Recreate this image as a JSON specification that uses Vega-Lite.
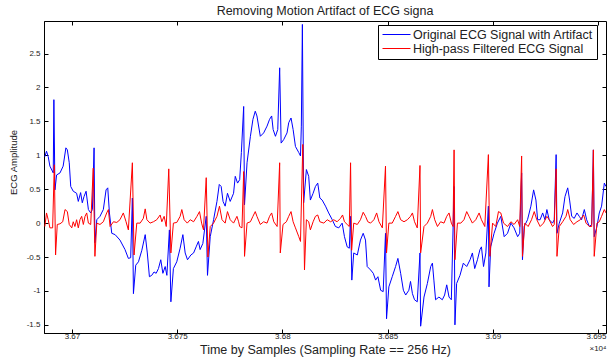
{
  "$schema": "https://vega.github.io/schema/vega-lite/v6.json",
  "width": 562,
  "height": 312,
  "autosize": {"type": "none"},
  "padding": {"left": 44, "top": 21, "right": 1, "bottom": 27},
  "background": "white",
  "config": {
    "view": {"stroke": "#000", "strokeWidth": 1},
    "font": "Liberation Sans",
    "axis": {"grid": false, "domainColor": "#000", "tickColor": "#000", "labelColor": "#222", "titleColor": "#222", "labelFont": "Liberation Sans", "titleFont": "Liberation Sans", "titleFontWeight": "normal"}
  },
  "title": {"text": "Removing Motion Artifact of ECG signa", "fontSize": 12.5, "fontWeight": "normal", "font": "Liberation Sans", "color": "#222", "offset": 3, "anchor": "middle"},
  "datasets": {
    "orig": [
      {"t":36687.1,"v":0.98},{"t":36687.9,"v":1.06},{"t":36688.7,"v":0.98},{"t":36689.5,"v":0.84},{"t":36691.1,"v":0.74},{"t":36691.4,"v":1.82},{"t":36691.9,"v":0.49},{"t":36692.7,"v":0.71},{"t":36694.3,"v":0.74},{"t":36695.8,"v":0.84},{"t":36697.1,"v":1.11},{"t":36697.8,"v":1.08},{"t":36698.7,"v":0.89},{"t":36699.4,"v":0.54},{"t":36700.6,"v":0.47},{"t":36702.2,"v":0.44},{"t":36703.0,"v":0.32},{"t":36704.1,"v":0.45},{"t":36704.9,"v":0.30},{"t":36705.7,"v":0.39},{"t":36706.7,"v":0.47},{"t":36707.8,"v":0.20},{"t":36708.9,"v":0.15},{"t":36709.7,"v":0.20},{"t":36710.5,"v":1.11},{"t":36710.9,"v":-0.29},{"t":36711.8,"v":0.05},{"t":36713.3,"v":0.10},{"t":36714.9,"v":0.20},{"t":36716.2,"v":0.49},{"t":36717.0,"v":0.52},{"t":36717.8,"v":0.15},{"t":36718.9,"v":-0.15},{"t":36720.5,"v":-0.17},{"t":36722.8,"v":-0.25},{"t":36725.2,"v":-0.39},{"t":36726.8,"v":-0.52},{"t":36727.9,"v":-0.51},{"t":36728.7,"v":0.37},{"t":36729.2,"v":-1.04},{"t":36730.3,"v":-0.62},{"t":36731.6,"v":-0.57},{"t":36733.2,"v":-0.40},{"t":36734.8,"v":-0.17},{"t":36735.8,"v":-0.44},{"t":36736.8,"v":-0.79},{"t":36737.9,"v":-0.77},{"t":36739.0,"v":-0.72},{"t":36740.0,"v":-0.74},{"t":36741.1,"v":-0.67},{"t":36742.2,"v":-0.54},{"t":36743.2,"v":-0.74},{"t":36744.3,"v":-0.64},{"t":36745.1,"v":-0.77},{"t":36746.3,"v":-0.10},{"t":36747.0,"v":-1.16},{"t":36748.2,"v":-0.67},{"t":36749.8,"v":-0.57},{"t":36751.4,"v":-0.37},{"t":36752.7,"v":-0.17},{"t":36753.8,"v":-0.44},{"t":36754.9,"v":-0.54},{"t":36756.5,"v":-0.47},{"t":36757.8,"v":-0.44},{"t":36759.0,"v":-0.35},{"t":36760.1,"v":-0.27},{"t":36760.9,"v":-0.39},{"t":36762.2,"v":-0.30},{"t":36763.8,"v":0.10},{"t":36764.4,"v":-0.77},{"t":36765.7,"v":-0.20},{"t":36767.3,"v":0.05},{"t":36768.9,"v":0.32},{"t":36770.0,"v":0.57},{"t":36770.9,"v":0.54},{"t":36771.8,"v":0.32},{"t":36772.8,"v":0.25},{"t":36773.9,"v":0.44},{"t":36775.2,"v":0.32},{"t":36776.8,"v":0.44},{"t":36777.6,"v":0.69},{"t":36778.7,"v":0.59},{"t":36779.7,"v":0.64},{"t":36780.5,"v":1.04},{"t":36781.6,"v":1.72},{"t":36782.0,"v":0.27},{"t":36783.2,"v":0.89},{"t":36784.8,"v":1.28},{"t":36786.0,"v":1.53},{"t":36787.1,"v":1.65},{"t":36787.9,"v":1.58},{"t":36789.5,"v":1.28},{"t":36791.1,"v":1.33},{"t":36792.7,"v":1.43},{"t":36793.9,"v":1.53},{"t":36794.9,"v":1.58},{"t":36795.6,"v":1.38},{"t":36796.7,"v":1.28},{"t":36797.8,"v":1.38},{"t":36798.7,"v":2.29},{"t":36799.4,"v":1.18},{"t":36800.6,"v":1.23},{"t":36802.2,"v":1.33},{"t":36803.0,"v":1.48},{"t":36804.1,"v":1.55},{"t":36805.1,"v":1.38},{"t":36806.2,"v":1.13},{"t":36807.8,"v":1.04},{"t":36808.6,"v":0.99},{"t":36809.0,"v":1.43},{"t":36809.5,"v":2.93},{"t":36810.1,"v":0.30},{"t":36811.4,"v":0.79},{"t":36812.5,"v":0.69},{"t":36813.3,"v":0.34},{"t":36814.6,"v":0.44},{"t":36815.7,"v":0.54},{"t":36816.8,"v":0.59},{"t":36817.8,"v":0.37},{"t":36818.9,"v":0.34},{"t":36820.5,"v":0.25},{"t":36822.0,"v":0.15},{"t":36823.7,"v":0.05},{"t":36825.2,"v":-0.05},{"t":36826.8,"v":-0.07},{"t":36828.4,"v":0.0},{"t":36829.5,"v":-0.20},{"t":36830.8,"v":-0.35},{"t":36831.8,"v":-0.37},{"t":36832.4,"v":0.10},{"t":36833.0,"v":-0.84},{"t":36833.9,"v":-0.44},{"t":36835.6,"v":-0.47},{"t":36837.1,"v":-0.25},{"t":36838.4,"v":-0.15},{"t":36839.5,"v":-0.25},{"t":36840.3,"v":-0.64},{"t":36841.9,"v":-0.69},{"t":36843.2,"v":-0.74},{"t":36844.3,"v":-0.84},{"t":36845.4,"v":-0.79},{"t":36846.7,"v":-0.99},{"t":36847.9,"v":-1.01},{"t":36849.0,"v":-0.15},{"t":36849.5,"v":-1.41},{"t":36850.6,"v":-0.94},{"t":36852.2,"v":-0.79},{"t":36853.8,"v":-0.64},{"t":36854.9,"v":-0.52},{"t":36856.2,"v":-0.74},{"t":36857.5,"v":-0.99},{"t":36858.6,"v":-1.06},{"t":36860.1,"v":-0.99},{"t":36860.9,"v":-0.86},{"t":36861.8,"v":-1.04},{"t":36862.8,"v":-1.13},{"t":36864.1,"v":-1.16},{"t":36865.4,"v":-0.44},{"t":36865.7,"v":-1.52},{"t":36867.3,"v":-1.09},{"t":36868.9,"v":-0.89},{"t":36870.5,"v":-0.64},{"t":36871.3,"v":-0.59},{"t":36872.0,"v":-0.84},{"t":36872.8,"v":-1.13},{"t":36874.4,"v":-1.09},{"t":36876.0,"v":-1.13},{"t":36877.1,"v":-1.06},{"t":36878.1,"v":-0.91},{"t":36879.2,"v":-1.09},{"t":36880.3,"v":-1.13},{"t":36881.6,"v":0.54},{"t":36882.0,"v":-1.50},{"t":36882.8,"v":-0.89},{"t":36884.4,"v":-0.77},{"t":36886.0,"v":-0.59},{"t":36887.6,"v":-0.64},{"t":36889.2,"v":-0.54},{"t":36890.3,"v":-0.44},{"t":36891.4,"v":-0.67},{"t":36892.7,"v":-0.54},{"t":36893.9,"v":-0.39},{"t":36894.6,"v":-0.35},{"t":36895.6,"v":-0.64},{"t":36896.7,"v":-0.44},{"t":36897.9,"v":0.25},{"t":36898.2,"v":-0.94},{"t":36899.0,"v":-0.35},{"t":36900.6,"v":-0.15},{"t":36902.2,"v":0.0},{"t":36903.8,"v":0.10},{"t":36905.4,"v":-0.20},{"t":36907.0,"v":-0.15},{"t":36908.6,"v":0.0},{"t":36910.1,"v":-0.07},{"t":36911.8,"v":-0.20},{"t":36912.8,"v":-0.15},{"t":36913.7,"v":0.74},{"t":36914.1,"v":-0.54},{"t":36914.9,"v":-0.05},{"t":36916.5,"v":0.05},{"t":36918.1,"v":0.25},{"t":36919.4,"v":0.49},{"t":36920.5,"v":0.34},{"t":36921.3,"v":0.05},{"t":36922.5,"v":0.05},{"t":36923.7,"v":0.15},{"t":36924.8,"v":0.05},{"t":36925.7,"v":0.20},{"t":36926.8,"v":0.05},{"t":36928.4,"v":0.0},{"t":36929.2,"v":0.05},{"t":36930.1,"v":1.01},{"t":36930.5,"v":-0.15},{"t":36931.6,"v":0.0},{"t":36933.2,"v":0.15},{"t":36934.3,"v":0.39},{"t":36935.6,"v":0.52},{"t":36936.5,"v":0.34},{"t":36937.5,"v":0.10},{"t":36938.7,"v":0.07},{"t":36940.0,"v":0.15},{"t":36941.1,"v":0.10},{"t":36942.2,"v":0.05},{"t":36943.5,"v":0.20},{"t":36944.6,"v":0.05},{"t":36945.9,"v":-0.05},{"t":36947.0,"v":-0.02},{"t":36947.8,"v":1.08},{"t":36948.2,"v":-0.20},{"t":36949.5,"v":-0.05},{"t":36950.6,"v":0.15},{"t":36951.7,"v":0.25},{"t":36953.0,"v":0.59},{"t":36953.8,"v":0.54}
    ],
    "filt": [
      {"t":36687.1,"v":-0.05},{"t":36687.9,"v":0.15},{"t":36688.7,"v":0.05},{"t":36689.5,"v":-0.07},{"t":36690.8,"v":-0.07},{"t":36691.6,"v":0.86},{"t":36692.2,"v":-0.47},{"t":36693.0,"v":-0.02},{"t":36694.3,"v":-0.01},{"t":36695.6,"v":0.02},{"t":36696.7,"v":0.20},{"t":36697.8,"v":0.17},{"t":36698.7,"v":-0.02},{"t":36699.9,"v":-0.07},{"t":36700.6,"v":0.02},{"t":36701.4,"v":-0.05},{"t":36702.2,"v":0.05},{"t":36703.0,"v":-0.07},{"t":36703.8,"v":0.05},{"t":36704.6,"v":0.10},{"t":36705.4,"v":-0.02},{"t":36706.2,"v":0.10},{"t":36707.0,"v":0.15},{"t":36707.8,"v":0.0},{"t":36708.9,"v":-0.02},{"t":36710.1,"v":0.81},{"t":36710.9,"v":-0.49},{"t":36711.8,"v":0.0},{"t":36713.3,"v":-0.02},{"t":36714.9,"v":0.02},{"t":36716.5,"v":0.15},{"t":36717.3,"v":0.20},{"t":36718.1,"v":-0.05},{"t":36719.7,"v":0.02},{"t":36721.3,"v":0.01},{"t":36722.8,"v":0.05},{"t":36724.4,"v":0.15},{"t":36725.7,"v":0.02},{"t":36726.8,"v":-0.10},{"t":36728.7,"v":0.89},{"t":36729.5,"v":-0.47},{"t":36730.8,"v":0.0},{"t":36732.4,"v":0.0},{"t":36733.9,"v":0.07},{"t":36734.8,"v":0.21},{"t":36735.6,"v":0.05},{"t":36737.1,"v":0.0},{"t":36738.7,"v":0.02},{"t":36740.3,"v":0.05},{"t":36741.9,"v":0.12},{"t":36742.7,"v":0.02},{"t":36743.8,"v":0.10},{"t":36744.8,"v":-0.05},{"t":36746.0,"v":0.80},{"t":36747.0,"v":-0.44},{"t":36748.2,"v":0.0},{"t":36749.8,"v":0.01},{"t":36751.4,"v":0.10},{"t":36752.2,"v":0.20},{"t":36753.3,"v":0.05},{"t":36754.8,"v":0.0},{"t":36756.2,"v":0.05},{"t":36757.8,"v":0.02},{"t":36759.4,"v":0.10},{"t":36760.6,"v":0.17},{"t":36761.6,"v":0.0},{"t":36762.5,"v":-0.10},{"t":36763.8,"v":0.67},{"t":36764.6,"v":-0.50},{"t":36765.7,"v":-0.05},{"t":36767.3,"v":0.0},{"t":36768.9,"v":0.10},{"t":36770.1,"v":0.25},{"t":36771.3,"v":0.05},{"t":36772.8,"v":0.0},{"t":36773.9,"v":0.17},{"t":36775.2,"v":0.05},{"t":36776.8,"v":0.0},{"t":36778.4,"v":0.10},{"t":36779.2,"v":0.02},{"t":36779.7,"v":-0.05},{"t":36780.8,"v":-0.07},{"t":36781.6,"v":0.76},{"t":36782.0,"v":-0.49},{"t":36783.2,"v":0.0},{"t":36784.8,"v":0.02},{"t":36786.0,"v":0.10},{"t":36787.1,"v":0.17},{"t":36787.9,"v":0.10},{"t":36789.5,"v":-0.02},{"t":36791.1,"v":0.02},{"t":36792.7,"v":0.0},{"t":36793.9,"v":0.10},{"t":36794.9,"v":0.15},{"t":36795.9,"v":0.02},{"t":36797.5,"v":-0.05},{"t":36798.7,"v":0.89},{"t":36799.0,"v":-0.44},{"t":36800.3,"v":-0.02},{"t":36801.9,"v":0.02},{"t":36803.0,"v":0.10},{"t":36804.1,"v":0.17},{"t":36805.1,"v":0.02},{"t":36806.2,"v":-0.07},{"t":36807.8,"v":-0.20},{"t":36808.6,"v":-0.27},{"t":36809.7,"v":1.16},{"t":36810.5,"v":-0.69},{"t":36811.4,"v":0.05},{"t":36812.5,"v":0.02},{"t":36813.3,"v":-0.10},{"t":36814.6,"v":0.02},{"t":36815.7,"v":0.10},{"t":36816.8,"v":0.12},{"t":36817.8,"v":0.02},{"t":36819.7,"v":0.0},{"t":36821.3,"v":0.05},{"t":36822.9,"v":0.02},{"t":36824.4,"v":0.05},{"t":36826.0,"v":0.02},{"t":36827.6,"v":0.07},{"t":36828.6,"v":0.12},{"t":36829.5,"v":0.02},{"t":36830.8,"v":-0.02},{"t":36831.8,"v":-0.05},{"t":36832.4,"v":0.89},{"t":36832.9,"v":-0.40},{"t":36833.9,"v":0.0},{"t":36835.6,"v":-0.02},{"t":36837.1,"v":0.05},{"t":36838.4,"v":0.16},{"t":36839.5,"v":0.10},{"t":36840.6,"v":0.02},{"t":36841.9,"v":0.0},{"t":36843.5,"v":0.05},{"t":36844.8,"v":0.15},{"t":36845.9,"v":0.02},{"t":36847.5,"v":-0.07},{"t":36849.0,"v":0.84},{"t":36849.5,"v":-0.44},{"t":36850.6,"v":0.0},{"t":36852.2,"v":0.0},{"t":36853.8,"v":0.10},{"t":36854.9,"v":0.17},{"t":36856.2,"v":0.05},{"t":36857.8,"v":0.02},{"t":36859.4,"v":0.05},{"t":36860.9,"v":0.10},{"t":36861.8,"v":0.15},{"t":36862.8,"v":0.02},{"t":36864.1,"v":-0.07},{"t":36865.4,"v":0.85},{"t":36865.7,"v":-0.44},{"t":36867.3,"v":-0.05},{"t":36868.9,"v":0.0},{"t":36870.5,"v":0.10},{"t":36871.3,"v":0.20},{"t":36872.4,"v":0.05},{"t":36873.7,"v":-0.05},{"t":36875.2,"v":0.02},{"t":36876.8,"v":0.0},{"t":36878.1,"v":0.10},{"t":36879.2,"v":0.15},{"t":36880.3,"v":0.0},{"t":36881.1,"v":-0.05},{"t":36881.6,"v":1.08},{"t":36882.0,"v":-0.54},{"t":36883.2,"v":0.0},{"t":36884.8,"v":0.0},{"t":36886.3,"v":0.05},{"t":36887.6,"v":0.17},{"t":36888.7,"v":0.10},{"t":36890.3,"v":0.0},{"t":36891.9,"v":0.05},{"t":36893.5,"v":0.15},{"t":36894.6,"v":0.05},{"t":36896.2,"v":-0.05},{"t":36897.9,"v":1.01},{"t":36898.6,"v":-0.49},{"t":36899.9,"v":0.0},{"t":36901.4,"v":-0.05},{"t":36902.7,"v":0.17},{"t":36903.8,"v":0.15},{"t":36905.1,"v":0.0},{"t":36907.0,"v":-0.05},{"t":36908.6,"v":0.02},{"t":36910.1,"v":-0.02},{"t":36911.8,"v":0.05},{"t":36912.8,"v":-0.05},{"t":36913.7,"v":0.99},{"t":36914.1,"v":-0.49},{"t":36915.2,"v":0.0},{"t":36916.8,"v":-0.05},{"t":36918.4,"v":0.05},{"t":36919.7,"v":0.17},{"t":36920.9,"v":0.05},{"t":36922.5,"v":-0.05},{"t":36924.1,"v":0.0},{"t":36925.7,"v":0.10},{"t":36926.8,"v":0.05},{"t":36928.4,"v":-0.05},{"t":36929.2,"v":-0.02},{"t":36930.1,"v":0.80},{"t":36930.5,"v":-0.49},{"t":36931.6,"v":-0.05},{"t":36933.2,"v":0.02},{"t":36934.8,"v":0.10},{"t":36935.6,"v":0.20},{"t":36936.8,"v":0.05},{"t":36938.4,"v":-0.02},{"t":36940.0,"v":0.02},{"t":36941.6,"v":0.05},{"t":36943.2,"v":0.12},{"t":36944.3,"v":0.0},{"t":36945.9,"v":-0.05},{"t":36947.0,"v":-0.05},{"t":36947.8,"v":1.08},{"t":36948.2,"v":-0.49},{"t":36949.5,"v":0.0},{"t":36950.6,"v":0.02},{"t":36951.7,"v":0.10},{"t":36953.0,"v":0.20},{"t":36953.8,"v":0.15}
    ]
  },
  "resolve": {"axis": {"x": "independent", "y": "independent"}},
  "layer": [
    {
      "data": {"name": "orig"},
      "mark": {"type": "line", "strokeWidth": 1, "clip": true},
      "encoding": {
        "x": {"field": "t", "type": "quantitative", "scale": {"domain": [36686.7, 36953.8], "nice": false, "zero": false},
          "axis": {"orient": "bottom", "values": [36700, 36750, 36800, 36850, 36900, 36950], "tickSize": -4, "labelPadding": 3, "labelFontSize": 8, "labelExpr": "datum.value == 36950 ? ['3.695', '×10⁴'] : format(datum.value / 10000, '.3~f')", "labelLineHeight": 12, "labelBaseline": "top", "labelAlign": {"condition": {"test": "datum.value == 36950", "value": "right"}, "value": "center"}, "labelOffset": {"condition": {"test": "datum.value == 36950", "value": 8}, "value": 0}, "title": "Time by Samples (Sampling Rate == 256 Hz)", "titleFontSize": 12.5, "titleY": 10, "titleBaseline": "top", "labelFlush": false, "labelOverlap": false}},
        "y": {"field": "v", "type": "quantitative", "scale": {"domain": [-1.62, 2.98], "nice": false, "zero": false},
          "axis": {"orient": "left", "values": [-1.5, -1, -0.5, 0, 0.5, 1, 1.5, 2, 2.5], "tickSize": -4, "labelPadding": 8, "labelFontSize": 8, "labelExpr": "'' + datum.value", "title": "ECG Amplitude", "titleFontSize": 9.5, "titlePadding": 8, "titleY": 141}},
        "color": {"datum": "Original ECG Signal with Artifact", "type": "nominal",
          "scale": {"domain": ["Original ECG Signal with Artifact", "High-pass Filtered ECG Signal"], "range": ["#0000ff", "#ff0000"]},
          "legend": {"orient": "none", "legendX": 334, "legendY": 4, "title": null, "direction": "vertical", "strokeColor": "#000", "fillColor": "#fff", "padding": 4, "symbolType": "stroke", "symbolSize": 784, "symbolStrokeWidth": 1, "clipHeight": 11, "rowPadding": 1, "labelFontSize": 12.5, "labelLimit": 400, "labelFont": "Liberation Sans", "labelColor": "#222", "labelOffset": 2}}
      }
    },
    {
      "data": {"name": "filt"},
      "mark": {"type": "line", "strokeWidth": 1, "clip": true},
      "encoding": {
        "x": {"field": "t", "type": "quantitative", "scale": {"domain": [36686.7, 36953.8], "nice": false, "zero": false},
          "axis": {"orient": "top", "values": [36700, 36750, 36800, 36850, 36900, 36950], "tickSize": -4, "labels": false, "title": null, "domain": false}},
        "y": {"field": "v", "type": "quantitative", "scale": {"domain": [-1.62, 2.98], "nice": false, "zero": false},
          "axis": {"orient": "right", "values": [-1.5, -1, -0.5, 0, 0.5, 1, 1.5, 2, 2.5], "tickSize": -4, "labels": false, "title": null, "domain": false}},
        "color": {"datum": "High-pass Filtered ECG Signal", "type": "nominal"}
      }
    }
  ]
}
